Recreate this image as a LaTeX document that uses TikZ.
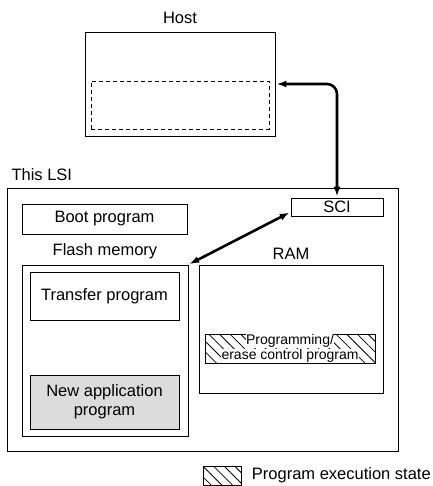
\documentclass[tikz,border=0pt]{standalone}
\usepackage{fontspec}
\setmainfont{Liberation Sans}
\usepackage{tikz}
\usetikzlibrary{arrows.meta, positioning, patterns.meta}
\definecolor{NewAppGray}{RGB}{220, 220, 220}
\tikzset{every node/.style={font=\fontsize{16.5}{19}\selectfont}, every path/.style={line join=miter}, >={Latex[length=10pt, width=7pt]}}
\tikzset{
    blockbox/.style={draw, line width=0.8pt, inner sep=0pt, align=center},
    hatchbox/.style={blockbox, pattern={Lines[angle=-45, distance=7.5pt, line width=0.8pt]}},
    busarrow/.style={<->, line width=2.6pt, shorten <=1pt, shorten >=1pt}
}
\setlength{\fboxsep}{0.4pt}

\begin{document}
\begin{tikzpicture}[x=1pt, y=-1pt]
    \useasboundingbox (0,0) rectangle (432,486);

    % host side
    \node [blockbox, minimum width=190pt, minimum height=104pt] (host) at (180,84) {};
    \node [blockbox, dash pattern=on 4pt off 3pt, minimum width=178pt, minimum height=48pt] (hostbuf) at (180,105) {};
    \node [above=4pt of host] (hostlabel) {Host};

    % this LSI
    \node [blockbox, minimum width=391pt, minimum height=263pt] (lsi) at (202.5,319.5) {};
    \node [anchor=west] (lsilabel) at (8,175) {This LSI};
    \node [blockbox, minimum width=92pt, minimum height=18pt] (sci) at (337,207) {SCI};
    \node [blockbox, minimum width=165pt, minimum height=30pt] (boot) at (104.5,219) {Boot program};

    \node [blockbox, minimum width=166pt, minimum height=171pt] (flash) at (105,350.5) {};
    \node [above=2pt of flash] (flashlabel) {Flash memory};
    \node [blockbox, minimum width=149pt, minimum height=48pt] (transfer) at (104.5,296) {Transfer program};
    \node [blockbox, fill=NewAppGray, minimum width=149pt, minimum height=54pt] (newapp) at (104.5,402) {New application\\program};

    \node [blockbox, minimum width=184pt, minimum height=128pt] (ram) at (291,329) {};
    \node [above=2pt of ram] (ramlabel) {RAM};
    \node [hatchbox, minimum width=170pt, minimum height=29pt] (progctl) at (290,348.5) {};
    \node [font=\fontsize{14}{14.5}\selectfont, align=center, inner sep=0pt] (progtext) at (progctl.center)
        {\colorbox{white}{Programming/}\\\colorbox{white}{erase control program}};

    % legend
    \node [hatchbox, minimum width=38pt, minimum height=19pt] (legendbox) at (222,475.5) {};
    \node [right=7pt of legendbox] (legendtext) {Program execution state};

    % connections
    \draw [busarrow, rounded corners=10pt] (sci.north) |- (host.east);
    \draw [busarrow] ([yshift=-5pt]sci.west) -- (flash.north east);
\end{tikzpicture}
\end{document}
